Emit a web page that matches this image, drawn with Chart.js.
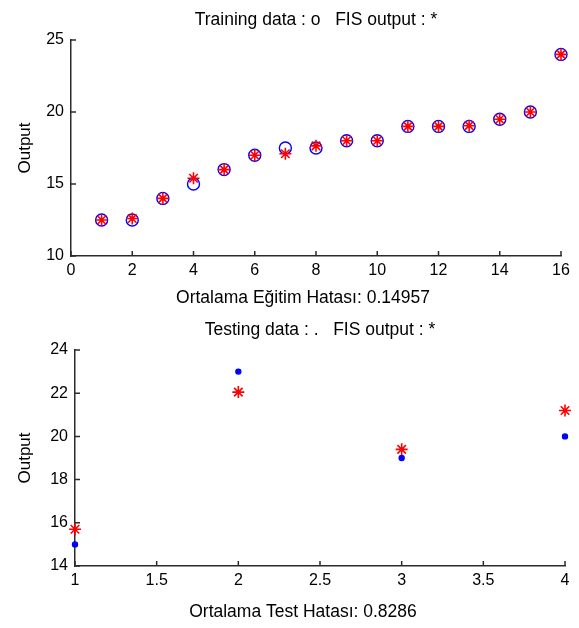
<!DOCTYPE html>
<html>
<head>
<meta charset="utf-8">
<script src="https://cdn.jsdelivr.net/npm/chart.js@4/dist/chart.umd.min.js"></script>
<style>
  html, body { margin: 0; padding: 0; background: #ffffff; overflow: hidden; }
  .wrap { position: absolute; left: 0; width: 579px; height: 314px; }
  #w1 { top: 0; }
  #w2 { top: 314px; }
</style>
</head>
<body>
<div class="wrap" id="w1"><canvas id="c1" width="579" height="314"></canvas></div>
<div class="wrap" id="w2"><canvas id="c2" width="579" height="314"></canvas></div>
<script>
// ---- Data ----
const trainX = [1, 2, 3, 4, 5, 6, 7, 8, 9, 10, 11, 12, 13, 14, 15, 16];
const trainData = [12.5, 12.5, 14, 15, 16, 17, 17.5, 17.5, 18, 18, 19, 19, 19, 19.5, 20, 24];
const trainFis = [12.5, 12.6, 14, 15.4, 16, 17, 17.1, 17.65, 18, 18, 19, 19, 19.05, 19.5, 20, 24];

const testX = [1, 2, 3, 4];
const testData = [15, 23, 19, 20];
const testFis = [15.7, 22.05, 19.4, 21.2];

const title1 = 'Training data : o   FIS output : *';
const xTitle1 = 'Ortalama Eğitim Hatası: 0.14957';
const title2 = 'Testing data : .   FIS output : *';
const xTitle2 = 'Ortalama Test Hatası: 0.8286';
const yTitle = 'Output';

const xTicks1 = [0, 2, 4, 6, 8, 10, 12, 14, 16];
const yTicks1 = [10, 15, 20, 25];
const xTicks2 = [1, 1.5, 2, 2.5, 3, 3.5, 4];
const yTicks2 = [14, 16, 18, 20, 22, 24];

const FONT = "'Liberation Sans', Arial, Helvetica, sans-serif";
const AXIS = '#2b2b2b';

function pts(xs, ys) { return xs.map((x, i) => ({ x: x, y: ys[i] })); }

// inward tick marks (MATLAB style)
const inwardTicks = {
  id: 'inwardTicks',
  afterDraw(chart) {
    const ctx = chart.ctx;
    const xs = chart.scales.x, ys = chart.scales.y;
    const a = chart.chartArea;
    ctx.save();
    ctx.strokeStyle = AXIS;
    ctx.lineWidth = 1.5;
    ctx.beginPath();
    xs.ticks.forEach(t => {
      const px = xs.getPixelForValue(t.value);
      ctx.moveTo(px, a.bottom);
      ctx.lineTo(px, a.bottom - 5);
    });
    ys.ticks.forEach(t => {
      const py = ys.getPixelForValue(t.value);
      ctx.moveTo(a.left, py);
      ctx.lineTo(a.left + 5, py);
    });
    ctx.stroke();
    ctx.restore();
  }
};

function makeChart(id, cfg) {
  return new Chart(document.getElementById(id), {
    type: 'scatter',
    data: {
      datasets: [
        {
          label: 'FIS output',
          data: pts(cfg.x, cfg.fis),
          pointStyle: 'star',
          radius: 6,
          borderColor: '#ff0000',
          backgroundColor: '#ff0000',
          borderWidth: 1.6,
          order: 0,
          clip: false
        },
        {
          label: 'data',
          data: pts(cfg.x, cfg.data),
          pointStyle: 'circle',
          radius: cfg.dotRadius,
          borderColor: '#0000ff',
          backgroundColor: cfg.dotFill,
          borderWidth: 1.4,
          order: 1,
          clip: false
        }
      ]
    },
    options: {
      responsive: false,
      animation: false,
      events: [],
      layout: { padding: { left: cfg.padLeft, right: cfg.padRight, top: 0, bottom: 0 } },
      plugins: {
        legend: { display: false },
        tooltip: { enabled: false },
        title: {
          display: true,
          fullSize: false,
          text: cfg.title,
          color: '#000',
          font: { family: FONT, size: 17.5, weight: 'normal' },
          padding: { top: cfg.titleTop, bottom: cfg.titleBottom }
        },
        subtitle: {
          display: true,
          position: 'bottom',
          fullSize: true,
          text: cfg.xTitle,
          color: '#000',
          font: { family: FONT, size: 17.5, weight: 'normal' },
          padding: { top: 0, bottom: 5.5 }
        }
      },
      scales: {
        x: {
          type: 'linear',
          min: cfg.xMin, max: cfg.xMax,
          afterBuildTicks: s => { s.ticks = cfg.xTicks.map(v => ({ value: v })); },
          afterFit: s => { s.height = cfg.xHeight; },
          grid: { display: true, drawOnChartArea: false, drawTicks: false },
          border: { display: true, color: AXIS, width: 1.5 },
          ticks: {
            color: '#000',
            padding: 5,
            maxRotation: 0,
            autoSkip: false,
            font: { family: FONT, size: 16 },
            callback: v => String(v)
          }
        },
        y: {
          type: 'linear',
          min: cfg.yMin, max: cfg.yMax,
          afterBuildTicks: s => { s.ticks = cfg.yTicks.map(v => ({ value: v })); },
          afterFit: s => { s.width = cfg.yWidth; },
          grid: { display: true, drawOnChartArea: false, drawTicks: false },
          border: { display: true, color: AXIS, width: 1.5 },
          ticks: {
            color: '#000',
            padding: 7,
            autoSkip: false,
            font: { family: FONT, size: 16 },
            callback: v => String(v)
          },
          title: {
            display: true,
            text: yTitle,
            color: '#000',
            font: { family: FONT, size: 17 },
            padding: { top: cfg.yTitlePad, bottom: 0 }
          }
        }
      }
    },
    plugins: [inwardTicks]
  });
}

makeChart('c1', {
  x: trainX, data: trainData, fis: trainFis,
  dotRadius: 6, dotFill: 'rgba(0,0,0,0)',
  title: title1, xTitle: xTitle1,
  xMin: 0, xMax: 16, yMin: 10, yMax: 25,
  xTicks: xTicks1, yTicks: yTicks1,
  padLeft: 45, padRight: 18, yWidth: 26, xHeight: 31.5, yTitlePad: -30.2,
  titleTop: 9.5, titleBottom: 9.5
});

makeChart('c2', {
  x: testX, data: testData, fis: testFis,
  dotRadius: 2.5, dotFill: '#0000ff',
  title: title2, xTitle: xTitle2,
  xMin: 1, xMax: 4, yMin: 14, yMax: 24,
  xTicks: xTicks2, yTicks: yTicks2,
  padLeft: 41, padRight: 14, yWidth: 34, xHeight: 35.5, yTitlePad: -26.2,
  titleTop: 5.5, titleBottom: 9.5
});
</script>
</body>
</html>
